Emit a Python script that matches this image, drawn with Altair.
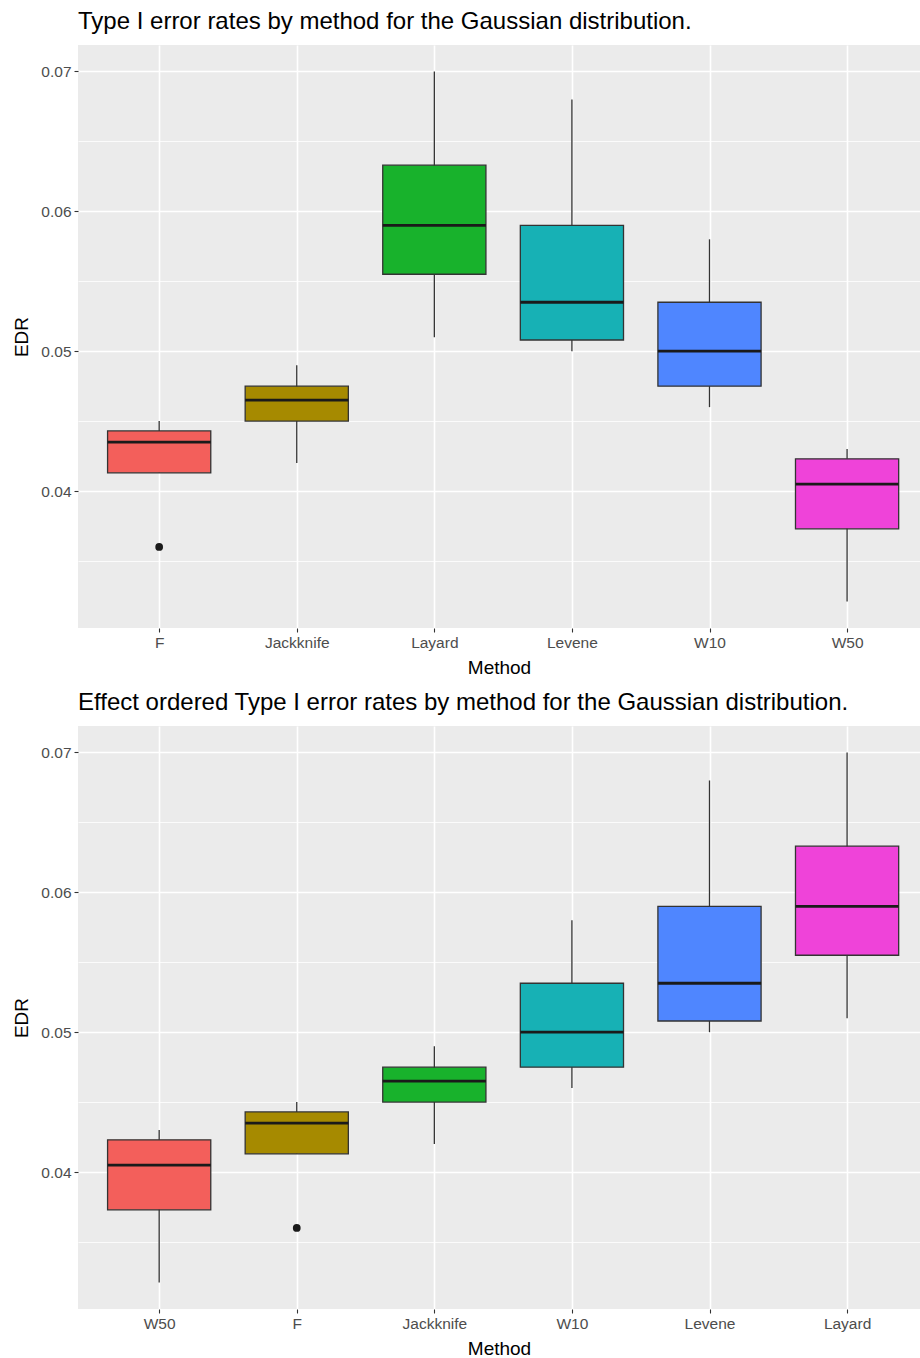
import altair as alt
import pandas as pd

# ---- data ----
methods = ["F", "Jackknife", "Layard", "Levene", "W10", "W50"]
whisker_low = [0.0413, 0.0420, 0.0510, 0.0500, 0.0460, 0.0321]
q1 = [0.0413, 0.0450, 0.0555, 0.0508, 0.0475, 0.0373]
median = [0.0435, 0.0465, 0.0590, 0.0535, 0.0500, 0.0405]
q3 = [0.0443, 0.0475, 0.0633, 0.0590, 0.0535, 0.0423]
whisker_high = [0.0450, 0.0490, 0.0700, 0.0680, 0.0580, 0.0430]
outlier_method = ["F"]
outlier_value = [0.0360]

order_top = ["F", "Jackknife", "Layard", "Levene", "W10", "W50"]
order_bottom = ["W50", "F", "Jackknife", "W10", "Levene", "Layard"]

palette = ["#F35F5B", "#A68A00", "#18B22C", "#17B1B5", "#4F86FF", "#EF43D9"]
y_ticks = [0.035, 0.04, 0.045, 0.05, 0.055, 0.06, 0.065, 0.07]

FONT = "Liberation Sans"
lo_all = min(whisker_low + outlier_value)
hi_all = max(whisker_high)
span = hi_all - lo_all
y_domain = [lo_all - 0.05 * span, hi_all + 0.05 * span]
x_domain = [0.41, 6.53]

major = "round(datum.value * 1000) % 10 == 0"


def panel(order, title):
    idx = {m: i + 1 for i, m in enumerate(order)}
    df = pd.DataFrame({
        "method": methods,
        "lower": whisker_low,
        "q1": q1,
        "median": median,
        "q3": q3,
        "upper": whisker_high,
    })
    df["pos"] = df["method"].map(idx)
    out = pd.DataFrame({"method": outlier_method, "value": outlier_value})
    out["pos"] = out["method"].map(idx)

    label_list = "[" + ",".join("'%s'" % m for m in order) + "]"
    xscale = alt.Scale(domain=x_domain, nice=False, zero=False)
    yscale = alt.Scale(domain=y_domain, nice=False, zero=False)
    cscale = alt.Scale(domain=order, range=palette)

    x_axis = alt.Axis(
        values=[1, 2, 3, 4, 5, 6],
        labelExpr=label_list + "[round(datum.value) - 1]",
        title="Method", grid=True, gridColor="white", gridWidth=1.6,
        domain=False, tickColor="#333333", tickSize=4, tickWidth=1.1,
        labelColor="#4D4D4D", labelFontSize=15.5, labelFont=FONT, labelPadding=3,
        titleFont=FONT, titleFontSize=19, titleFontWeight="normal",
        titleColor="black", titlePadding=8,
    )
    y_axis = alt.Axis(
        values=y_ticks,
        labelExpr=major + " ? format(datum.value, '.2f') : ''",
        title="EDR", grid=True, gridColor="white",
        gridWidth={"condition": {"test": major, "value": 1.6}, "value": 0.8},
        tickSize={"condition": {"test": major, "value": 4}, "value": 0},
        domain=False, tickColor="#333333", tickWidth=1.1,
        labelColor="#4D4D4D", labelFontSize=15.5, labelFont=FONT, labelPadding=3,
        titleFont=FONT, titleFontSize=19, titleFontWeight="normal",
        titleColor="black", titlePadding=9,
    )

    base = alt.Chart(df)
    whisk = base.mark_rule(color="#333333", strokeWidth=1.3).encode(
        x=alt.X("pos:Q", scale=xscale, axis=x_axis),
        y=alt.Y("lower:Q", scale=yscale, axis=y_axis),
        y2="upper:Q",
    )
    box = base.transform_calculate(
        xa="datum.pos - 0.375", xb="datum.pos + 0.375"
    ).mark_bar(stroke="#333333", strokeWidth=1.3).encode(
        x=alt.X("xa:Q", scale=xscale, axis=x_axis),
        x2="xb:Q",
        y=alt.Y("q1:Q", scale=yscale, axis=y_axis),
        y2="q3:Q",
        color=alt.Color("method:N", scale=cscale, legend=None),
    )
    med = base.transform_calculate(
        xa="datum.pos - 0.375", xb="datum.pos + 0.375"
    ).mark_rule(color="#1A1A1A", strokeWidth=2.8).encode(
        x=alt.X("xa:Q", scale=xscale, axis=x_axis),
        x2="xb:Q",
        y=alt.Y("median:Q", scale=yscale, axis=y_axis),
    )
    pts = alt.Chart(out).mark_circle(color="#1A1A1A", size=60, opacity=1).encode(
        x=alt.X("pos:Q", scale=xscale, axis=x_axis),
        y=alt.Y("value:Q", scale=yscale, axis=y_axis),
    )
    return alt.layer(whisk, box, med, pts).properties(
        width=842, height=583,
        title=alt.TitleParams(title, anchor="start", frame="group", fontSize=24,
                              font=FONT, fontWeight="normal", color="black",
                              offset=11),
    )


top = panel(order_top, "Type I error rates by method for the Gaussian distribution.")
bottom = panel(order_bottom,
               "Effect ordered Type I error rates by method for the Gaussian distribution.")

chart = alt.vconcat(top, bottom, spacing=13).resolve_scale(color="independent").properties(
    padding={"left": 12, "top": 10, "right": 0, "bottom": 0},
    background="white",
).configure_view(fill="#EBEBEB", strokeWidth=0)

chart.save("out.html", embed_options={"renderer": "svg", "actions": False})
